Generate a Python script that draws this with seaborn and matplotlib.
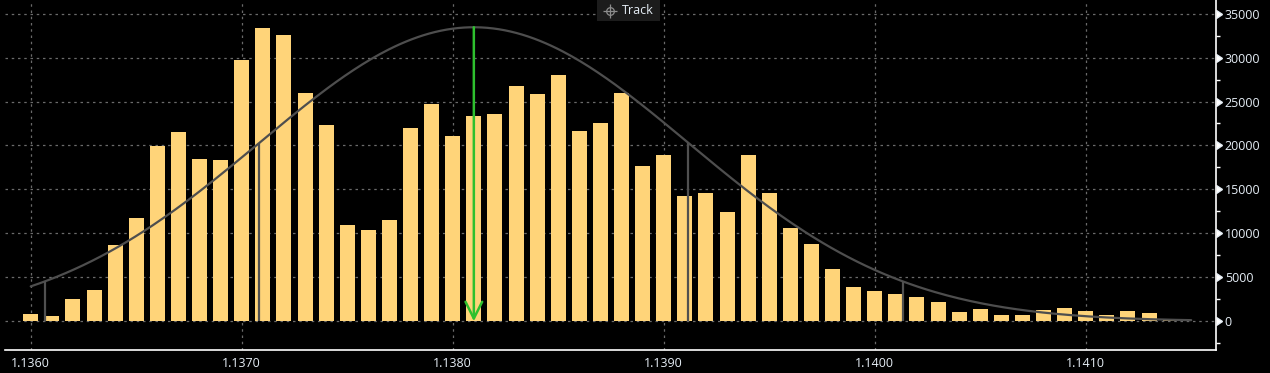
import numpy as np
import pandas as pd
import matplotlib
matplotlib.use("Agg")
import matplotlib.pyplot as plt
import seaborn as sns
from matplotlib.ticker import MultipleLocator, FormatStrFormatter
from matplotlib.lines import Line2D
from matplotlib.patches import Rectangle

# ---- data ----
price_levels = [round(1.1360 + 0.0001 * i, 4) for i in range(56)]
volumes = [
    800, 600, 2540, 3560, 8680, 11750, 19980, 21530, 18460, 18350,
    29720, 33370, 32570, 25970, 22330, 10950, 10390, 11520, 22030, 24720,
    21080, 23350, 23580, 26770, 25860, 28020, 21650, 22560, 25970, 17670,
    18920, 14250, 14600, 12430, 18920, 14600, 10610, 8790, 5950, 3900,
    3450, 3110, 2760, 2200, 1060, 1400, 720, 720, 1290, 1510,
    1170, 720, 1170, 940, 260, 50,
]
mean_price = 1.13810
sigma_price = 0.001017
curve_peak = 33450
sigma_marks = [-2, -1, 1, 2]
x_ticks = [1.1360, 1.1370, 1.1380, 1.1390, 1.1400, 1.1410]
y_ticks = [0, 5000, 10000, 15000, 20000, 25000, 30000, 35000]
legend_label = "Track"

df = pd.DataFrame({"price": price_levels, "volume": volumes})

sns.set_theme(style="dark")
plt.rcParams["font.family"] = ["Open Sans", "DejaVu Sans"]

W, H = 1270, 373
fig = plt.figure(figsize=(W / 100, H / 100), dpi=100, facecolor="black")
ax = fig.add_axes([5 / W, 1 - 350 / H, (1215.7 - 5) / W, 350 / H])
ax.set_facecolor("black")

bar_color = "#FFD479"
sns.barplot(data=df, x="price", y="volume", native_scale=True, width=0.71,
            color=bar_color, saturation=1, edgecolor="none", linewidth=0, ax=ax,
            zorder=2)

# normal curve
xs = np.linspace(price_levels[0], price_levels[-1], 400)
ys = curve_peak * np.exp(-0.5 * ((xs - mean_price) / sigma_price) ** 2)
sns.lineplot(x=xs, y=ys, color="#4e4e4e", linewidth=1.6, ax=ax, zorder=3)

# sigma lines
for k in sigma_marks:
    px = mean_price + k * sigma_price
    py = curve_peak * np.exp(-0.5 * k ** 2)
    ax.vlines(px, 0, py, color="#505050", linewidth=1.6, zorder=3)

# green mean arrow
green = "#2EC02E"
ax.annotate("", xy=(mean_price, 0), xytext=(mean_price, curve_peak),
            arrowprops=dict(arrowstyle="->,head_length=1.0,head_width=0.5",
                            color=green, lw=1.8, shrinkA=0, shrinkB=0),
            zorder=4)

# axes limits
ax.set_xlim(1.135878, 1.141616)
ax.set_ylim(-3270, 36550)

# grid
ax.set_xticks(x_ticks)
ax.xaxis.set_major_formatter(FormatStrFormatter("%.4f"))
ax.set_yticks(y_ticks)
ax.yaxis.set_minor_locator(MultipleLocator(2500))
ax.grid(True, which="major", color="#6a6a6a", linestyle=(0, (2, 3)), linewidth=0.9)
ax.set_axisbelow(True)

# spines
for s in ["top", "left"]:
    ax.spines[s].set_visible(False)
for s in ["bottom", "right"]:
    ax.spines[s].set_visible(True)
    ax.spines[s].set_color("white")
    ax.spines[s].set_linewidth(1.2)

label_color = "#E6EEF6"
ax.yaxis.tick_right()
ax.yaxis.set_label_position("right")
ax.tick_params(axis="y", which="major", colors=label_color, labelsize=9,
               length=6, width=1, pad=0.5, direction="out",
               left=False, right=True, labelleft=False, labelright=True)
ax.tick_params(axis="y", which="minor", colors="white", length=3, width=1,
               left=False, right=True)
ax.tick_params(axis="x", which="major", colors=label_color, labelsize=9,
               length=3, width=1, pad=2, direction="out")
for t in ax.yaxis.get_major_ticks():
    t.tick2line.set_marker(9)  # caret right centered at base
    t.tick2line.set_markersize(6)
    t.tick2line.set_color("white")
ax.set_xlabel("")
ax.set_ylabel("")

# "Track" tag (box, crosshair icon drawn as a shape, text)
fig.add_artist(Rectangle((597 / W, 1 - 21 / H), 63 / W, 21 / H,
                         transform=fig.transFigure, facecolor="#1c1c1c",
                         edgecolor="none", zorder=5))
icon_x, icon_y = 609.5 / W, 1 - 10.5 / H
fig.add_artist(Line2D([icon_x], [icon_y], transform=fig.transFigure, marker="o",
                      markersize=5.5, markerfacecolor="none",
                      markeredgecolor="#8c8c8c", markeredgewidth=0.9,
                      linestyle="none", zorder=6))
fig.add_artist(Line2D([icon_x], [icon_y], transform=fig.transFigure, marker="+",
                      markersize=10, markeredgecolor="#8c8c8c",
                      markeredgewidth=0.9, linestyle="none", zorder=6))
fig.text(622 / W, 1 - 10.5 / H, legend_label, ha="left", va="center",
         color="#E6EEF6", fontsize=9, zorder=7)

fig.savefig("out.png", dpi=100, facecolor="black")
